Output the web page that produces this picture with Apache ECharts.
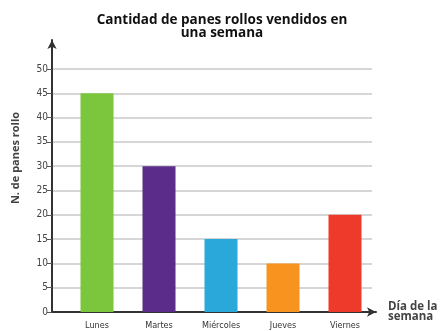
<!DOCTYPE html>
<html>
<head>
<meta charset="utf-8">
<script src="https://cdn.jsdelivr.net/npm/echarts@6/dist/echarts.min.js"></script>
<style>
  html, body { margin: 0; padding: 0; background: #fff; }
  #chart { width: 443px; height: 331px; }
</style>
</head>
<body>
<div id="chart"></div>
<script>
// Rolls sold per weekday
const days = ['Lunes', 'Martes', 'Miércoles', 'Jueves', 'Viernes'];
const rolls = [45, 30, 15, 10, 20];
const barColors = ['#7cc63d', '#5b2c8a', '#29a8d9', '#f7931e', '#ee3a2b'];
const yTicks = [0, 5, 10, 15, 20, 25, 30, 35, 40, 45, 50];

const chart = echarts.init(document.getElementById('chart'));

const labelFont = '"DejaVu Sans Condensed", "Liberation Sans Narrow", sans-serif';
const headFont = '"Open Sans", "Noto Sans", sans-serif';

chart.setOption({
  animation: false,
  backgroundColor: '#ffffff',
  title: {
    text: 'Cantidad de panes rollos vendidos en\nuna semana',
    left: 217,
    textAlign: 'center',
    top: 9,
    textStyle: { fontFamily: headFont, fontWeight: 'bold', fontSize: 13.5, lineHeight: 12.5, color: '#111' }
  },
  graphic: [{
    type: 'text',
    x: 16, y: 158,
    rotation: Math.PI / 2,
    style: {
      text: 'N. de panes rollo',
      fontFamily: headFont, fontWeight: 'bold', fontSize: 11,
      fill: '#444', align: 'center', verticalAlign: 'middle'
    }
  }],
  grid: [
    // axis lines with arrowheads
    { left: 52, right: 67, top: 40, bottom: 19 },
    // value scale: labels, ticks and horizontal rules
    { left: 52, right: 71, top: 69, bottom: 19 },
    // bars
    { left: 66, width: 310, top: 69, bottom: 19 }
  ],
  xAxis: [
    {
      gridIndex: 0, type: 'value', min: 0, max: 1,
      axisLine: { show: true, symbol: ['none', 'arrow'], symbolSize: [7, 9], lineStyle: { color: '#333', width: 2 } },
      axisTick: { show: false }, axisLabel: { show: false }, splitLine: { show: false },
      name: 'Día de la\nsemana', nameLocation: 'end', nameGap: 12,
      nameTextStyle: { fontFamily: headFont, fontWeight: 'bold', fontSize: 11.5, lineHeight: 10, color: '#444', align: 'left', verticalAlign: 'middle', padding: [12, 0, 0, 0] }
    },
    {
      gridIndex: 1, type: 'value', min: 0, max: 1, show: false
    },
    {
      gridIndex: 2, type: 'category', data: days,
      axisLine: { show: false }, axisTick: { show: false },
      axisLabel: { fontFamily: labelFont, fontSize: 9, color: '#333', margin: 9 }
    }
  ],
  yAxis: [
    {
      gridIndex: 0, type: 'value', min: 0, max: 1,
      axisLine: { show: true, symbol: ['none', 'arrow'], symbolSize: [7, 9], lineStyle: { color: '#333', width: 2 } },
      axisTick: { show: false }, axisLabel: { show: false }, splitLine: { show: false }
    },
    {
      gridIndex: 1, type: 'value', min: yTicks[0], max: yTicks[yTicks.length - 1], interval: 5,
      axisLine: { show: false },
      axisTick: { show: true, length: 5, lineStyle: { color: '#555', width: 1 } },
      axisLabel: { fontFamily: labelFont, fontSize: 10, color: '#444', margin: 4 },
      splitLine: { show: true, lineStyle: { color: '#c8c8c8', width: 1.5 } }
    },
    {
      gridIndex: 2, type: 'value', min: yTicks[0], max: yTicks[yTicks.length - 1], show: false
    }
  ],
  series: [{
    type: 'bar',
    xAxisIndex: 2, yAxisIndex: 2,
    barWidth: 33,
    data: rolls.map((v, i) => ({ value: v, itemStyle: { color: barColors[i] } }))
  }]
});
</script>
</body>
</html>
